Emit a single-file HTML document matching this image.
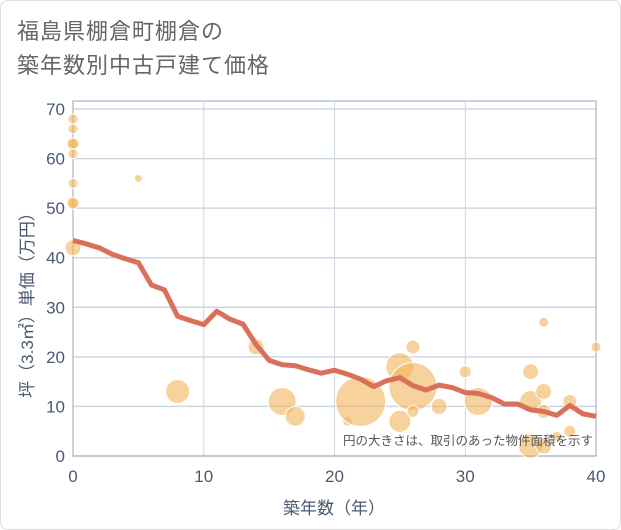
<!DOCTYPE html>
<html><head><meta charset="utf-8"><style>
body{margin:0;background:#fff}
#card{position:relative;width:619px;height:528px;border:1px solid #ddd;border-radius:8px;background:#fff;font-family:"Liberation Sans","Noto Sans CJK JP",sans-serif;overflow:hidden}
#title{position:absolute;left:16px;top:14px;font-size:22px;line-height:34px;color:#666;letter-spacing:1px}
</style></head><body>
<div id="card">
<div id="title">福島県棚倉町棚倉の<br>築年数別中古戸建て価格</div>
<svg id="svg" width="621" height="530" style="position:absolute;left:0;top:0"></svg>
</div>
<script>
const xTicks=[0,10,20,30,40];
const yTicks=[0,10,20,30,40,50,60,70];
const lineX=[0,1,2,3,4,5,6,7,8,9,10,11,12,13,14,15,16,17,18,19,20,21,22,23,24,25,26,27,28,29,30,31,32,33,34,35,36,37,38,39,40];
const lineY=[43.5,42.8,42,40.7,39.8,39,34.5,33.5,28.2,27.3,26.5,29.2,27.6,26.6,22.5,19.3,18.4,18.2,17.4,16.7,17.3,16.5,15.5,14,15.2,15.8,14.2,13.3,14.3,13.8,12.8,12.6,11.8,10.5,10.5,9.3,9,8.2,10.2,8.5,8];
const bubX=[0,0,0,0,0,0,0,0,0,5,8,14,16,17,21,22,25,25,26,26,26,28,30,31,35,35,35,36,36,36,36,37,38,38,40];
const bubY=[68,66,63,63,61,55,51,51,42,56,13,22,11,8,7,11,18,7,22,14,9,10,17,11,17,11,2,27,13,9,2,4,11,5,22];
const bubR=[5,5,5,6,5,5,5,6,8,4,12,8,14,10,5,25,14,11,7,24,6,8,6,14,8,11,12,5,8,7,8,5,7,6,5];
const NS='http://www.w3.org/2000/svg';
const svg=document.getElementById('svg');
const L=72,R=595,T=108,B=455;
const sx=v=>L+(v-0)/40*(R-L);
const sy=v=>B-v/70*(B-T);
function mk(t,a){const e=document.createElementNS(NS,t);for(const k in a)e.setAttribute(k,a[k]);svg.appendChild(e);return e;}
yTicks.forEach(v=>{const g=mk('line',{x1:L,x2:R,y1:sy(v),y2:sy(v),stroke:'#ccd6e3','stroke-width':1.5});

const t=mk('text',{x:L-8,y:sy(v)+6,'text-anchor':'end','font-size':17,fill:'#4a5a70'});t.textContent=v;
});
xTicks.forEach(v=>{const g=mk('line',{x1:sx(v),x2:sx(v),y1:T-8,y2:B,stroke:'#ccd6e3','stroke-width':1});

const t=mk('text',{x:sx(v),y:B+26,'text-anchor':'middle','font-size':17,fill:'#4a5a70'});t.textContent=v;
});
const fr=mk('rect',{x:L,y:T-8,width:R-L,height:B-T+8,fill:'none',stroke:'#aab4c2','stroke-width':1.2});

bubX.forEach((x,i)=>{const c=mk('circle',{cx:sx(x),cy:sy(bubY[i]),r:bubR[i],fill:'rgba(242,180,90,0.6)',stroke:'#fff','stroke-width':1});
});
const p=mk('polyline',{points:lineX.map((x,i)=>sx(x)+','+sy(lineY[i])).join(' '),fill:'none',stroke:'#d9705a','stroke-width':5,'stroke-linejoin':'round'});

const n=mk('text',{x:592,y:444,'text-anchor':'end','font-size':12.5,fill:'#555'});n.textContent='円の大きさは、取引のあった物件面積を示す';

const xt=mk('text',{x:333,y:513,'text-anchor':'middle','font-size':17,fill:'#4a5a70'});xt.textContent='築年数（年）';

const yt=mk('text',{x:0,y:0,'text-anchor':'middle','font-size':17,fill:'#4a5a70',transform:'translate(32,300) rotate(-90)'});yt.textContent='坪（3.3㎡）単価（万円）';

</script>
</body></html>
